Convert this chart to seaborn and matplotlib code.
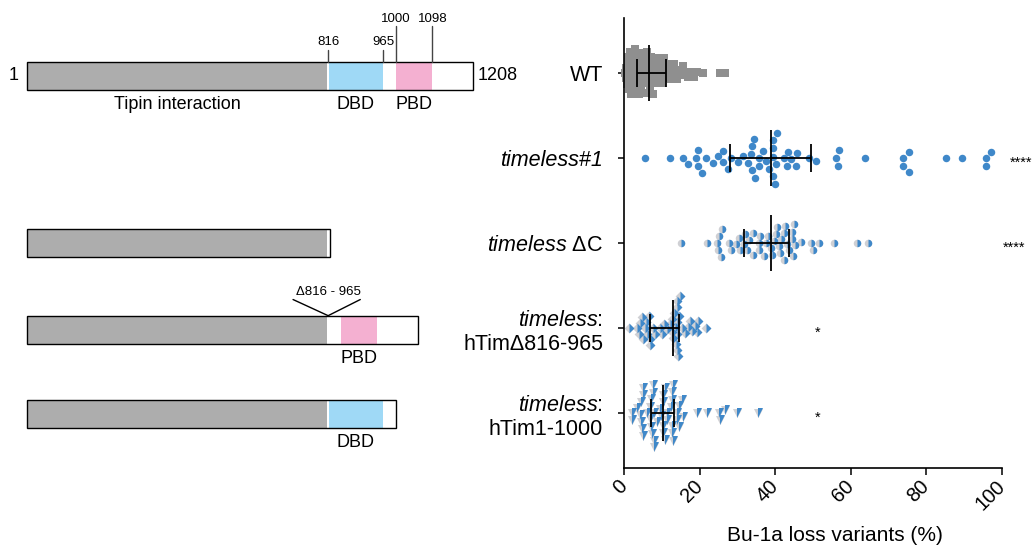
import numpy as np
import pandas as pd
import matplotlib
matplotlib.use("Agg")
import matplotlib.pyplot as plt
from matplotlib.markers import MarkerStyle
from matplotlib.patches import Rectangle
import seaborn as sns

# ---------------- data ----------------
categories = ["WT", "timeless#1", "timeless ΔC",
              "timeless: hTimΔ816-965", "timeless: hTim1-1000"]
tick_labels = ["WT", "timeless#1", r"$\mathit{timeless}$ ΔC",
               "$\\mathit{timeless}$:\nhTimΔ816-965",
               "$\\mathit{timeless}$:\nhTim1-1000"]

wt = [0.2, 0.4, 0.6, 0.8, 1.0, 1.0, 1.3, 1.5, 1.6, 1.8, 2.0, 2.1, 2.3, 2.5, 2.6,
      2.8, 3.0, 3.1, 3.3, 3.5, 3.6, 3.8, 4.0, 4.1, 4.3, 4.5, 4.6, 4.8, 5.0, 5.1,
      5.3, 5.5, 5.6, 5.8, 6.0, 6.2, 6.4, 6.5, 6.7, 6.9, 7.0, 7.2, 7.4, 7.6, 7.8,
      8.0, 8.3, 8.5, 8.8, 9.0, 9.3, 9.5, 9.8, 10.0, 10.3, 10.6, 11.0, 11.3, 11.6,
      12.0, 12.4, 12.8, 13.2, 13.6, 14.0, 14.5, 15.0, 15.6, 16.2, 17.0, 17.8,
      18.5, 19.3, 20.9, 25.4, 26.8]
timeless1 = [5.5, 12.3, 15.6, 17.0, 19.0, 19.6, 19.6, 20.7, 21.8, 23.5, 24.8,
             26.2, 26.3, 27.4, 28.3, 30.1, 31.6, 32.8, 33.6, 33.8, 33.8, 34.4,
             34.6, 35.7, 35.7, 36.9, 37.6, 38.4, 39.3, 39.5, 39.5, 39.3, 39.9,
             40.1, 40.4, 42.2, 43.0, 43.5, 44.3, 45.4, 45.7, 48.9, 50.8,
             56.2, 56.7, 56.9, 63.8, 73.8, 73.8, 75.3, 75.3, 85.2, 89.5,
             95.7, 95.7, 97.0]
timeless_dC = [15.0, 21.9, 24.5, 24.8, 25.6, 25.8, 25.2, 27.7, 28.2, 29.5, 30.5,
               30.7, 31.7, 32.0, 32.6, 33.2, 34.0, 34.0, 35.6, 35.8, 36.1, 37.0,
               37.5, 38.2, 38.9, 39.2, 39.7, 40.2, 40.6, 41.0, 41.4, 41.5, 42.4,
               42.4, 42.6, 43.0, 43.7, 44.4, 44.5, 44.8, 45.0, 45.2, 46.8, 49.5,
               49.9, 51.6, 55.6, 61.6, 64.5]
htim_d816 = [1.4, 3.5, 4.1, 4.2, 4.7, 5.0, 5.6, 5.8, 6.0, 6.5, 6.9, 7.0, 7.7,
             8.2, 9.5, 10.0, 10.6, 11.3, 12.2, 12.6, 12.8, 13.05, 13.2, 13.5,
             13.8, 13.9, 13.9, 14.0, 14.1, 14.1, 14.4, 14.6, 14.8, 15.3, 16.1,
             16.8, 17.5, 17.9, 18.8, 19.4, 19.7, 21.7]
htim_1000 = [4.4, 7.1, 8.0, 9.7, 11.5, 12.4,
             5.1, 7.3, 8.0, 10.2, 12.8, 14.6,
             3.35, 4.7, 6.9, 8.6, 10.8, 13.05, 15.3, 19.2,
             2.0, 5.1, 7.7, 9.5, 10.2, 13.9, 14.6, 25.0,
             5.1, 7.7, 10.8, 12.6, 12.8, 21.9, 25.4, 29.8, 35.5,
             2.0, 6.0, 8.0, 13.05, 13.9, 26.7,
             4.2, 6.9, 7.1, 10.2, 12.8, 15.5,
             4.4, 10.4, 11.5]
groups = [wt, timeless1, timeless_dC, htim_d816, htim_1000]
significance = ["", "****", "****", "*", "*"]

# protein constructs (amino-acid coordinates)
full_length = 1208
boundary_positions = [816, 965, 1000, 1098]
construct_rows = [0, 2, 3, 4]
construct_lengths = [1208, 822, 1059, 1000]
tipin_end = 816
dbd_ranges = [(816, 965), None, None, (816, 965)]
pbd_ranges = [(1000, 1098), None, (851, 949), None]
deletion_label = "Δ816 - 965"
deletion_site = 816

# ---------------- style ----------------
sns.set_theme(style="ticks")
plt.rcParams["font.family"] = ["Liberation Sans", "DejaVu Sans"]
plt.rcParams["mathtext.fontset"] = "custom"
plt.rcParams["mathtext.it"] = "Liberation Sans:italic"
plt.rcParams["mathtext.rm"] = "Liberation Sans"
for key in ("text.color", "axes.labelcolor", "xtick.color", "ytick.color",
            "axes.edgecolor"):
    plt.rcParams[key] = "black"

BLUE = "#3f88c9"
LGRAY = "#cfd0d4"
WTGRAY = "#8f8f8f"

fig = plt.figure(figsize=(10.32, 5.51), dpi=100)
W, H = 1032, 551
ax = fig.add_axes([624 / W, 1 - 468 / H, 378 / W, 450 / H])

specs = [
    dict(marker="s", base=WTGRAY, half=None, layout=3.8, size=5.3),
    dict(marker="o", base=BLUE, half=None, layout=5.6, size=5.4),
    dict(marker="o", base=LGRAY, half=BLUE, layout=5.0, size=5.4),
    dict(marker="D", base=LGRAY, half=BLUE, layout=4.2, size=5.0),
    dict(marker="v", base=LGRAY, half=BLUE, layout=5.0, size=6.5),
]

ax.set_xlim(0, 100)
for cat, vals, sp in zip(categories, groups, specs):
    n_before = len(ax.collections)
    df = pd.DataFrame({"value": vals, "group": [cat] * len(vals)})
    sns.swarmplot(data=df, x="value", y="group", order=categories, ax=ax,
                  marker=sp["marker"], color=sp["base"], size=sp["layout"],
                  linewidth=0, orient="h", warn_thresh=1.0)
    ax.set_xlim(0, 100)
    ax.set_ylim(4.647, -0.647)
    fig.canvas.draw()  # swarm positions are computed at draw time
    new = [c for c in ax.collections[n_before:] if len(c.get_offsets())]
    for c in new:
        off = np.asarray(c.get_offsets()).copy()
        c.remove()
        ax.scatter(off[:, 0], off[:, 1], marker=sp["marker"],
                   s=sp["size"] ** 2, color=sp["base"], linewidths=0,
                   zorder=2, clip_on=False)
        if sp["half"] is not None:
            ax.scatter(off[:, 0], off[:, 1],
                       marker=MarkerStyle(sp["marker"], fillstyle="right"),
                       s=sp["size"] ** 2, color=sp["half"], linewidths=0,
                       zorder=2.1, clip_on=False)

# median with interquartile range
for i, vals in enumerate(groups):
    q1, med, q3 = np.percentile(vals, [25, 50, 75])
    kw = dict(color="black", lw=1.3, zorder=5, solid_capstyle="butt")
    ax.plot([med, med], [i - 0.33, i + 0.33], **kw)
    ax.plot([q1, q3], [i, i], **kw)
    ax.plot([q1, q1], [i - 0.17, i + 0.17], **kw)
    ax.plot([q3, q3], [i - 0.17, i + 0.17], **kw)

# significance
sig_pos = {1: (102.1, "left"), 2: (100.2, "left"), 3: (51.3, "center"), 4: (51.3, "center")}
for i, s in enumerate(significance):
    if s:
        x, ha = sig_pos[i]
        ax.text(x, i + 0.06, s, ha=ha, va="center", fontsize=10.5, clip_on=False)

ax.set_xlim(0, 100)
ax.set_ylim(4.647, -0.647)
ax.set_xticks([0, 20, 40, 60, 80, 100])
ax.set_xticklabels(["0", "20", "40", "60", "80", "100"], rotation=45,
                   ha="right", va="center", rotation_mode="anchor", fontsize=14.5)
ax.set_yticks(range(len(categories)))
ax.set_yticklabels(tick_labels, fontsize=15.5)
for j, lab in enumerate(ax.get_yticklabels()):
    lab.set_multialignment("right")
    if j == 1:
        lab.set_fontstyle("italic")
ax.set_ylabel("")
ax.set_xlabel("Bu-1a loss variants (%)", fontsize=15)
ax.xaxis.set_label_coords((835 - 624) / 378, -0.128)
ax.tick_params(axis="y", length=4, width=1.1, pad=11, color="black")
ax.tick_params(axis="x", length=5, width=1.1, pad=6, color="black")
for side in ("top", "right"):
    ax.spines[side].set_visible(False)
for side in ("left", "bottom"):
    ax.spines[side].set_linewidth(1.2)
    ax.spines[side].set_color("black")

# ---------------- protein schematics ----------------
axl = fig.add_axes([0, 1 - 468 / H, 600 / W, 450 / H])
ppx = 0.3695  # px per residue
axl.set_xlim(1 - 27 / ppx, 1 + (600 - 27) / ppx)
axl.set_ylim(4.647, -0.647)
axl.axis("off")

GRAY = "#adadad"
DBD_C = "#9fd9f6"
PBD_C = "#f4b0d1"
bar_h = 0.33
row_shift = [0.035, 0.0, 0.02, 0.01]
gap = 3

for k, (row, L) in enumerate(zip(construct_rows, construct_lengths)):
    yc = row + row_shift[k]
    y0 = yc - bar_h / 2
    axl.add_patch(Rectangle((1, y0), L - 1, bar_h, facecolor="white",
                            edgecolor="none", zorder=1))
    axl.add_patch(Rectangle((1, y0), min(tipin_end - gap, L) - 1, bar_h,
                            facecolor=GRAY, edgecolor="none", zorder=2))
    if dbd_ranges[k]:
        a, b = dbd_ranges[k]
        axl.add_patch(Rectangle((a + gap, y0), b - a - gap, bar_h,
                                facecolor=DBD_C, edgecolor="none", zorder=2))
        axl.text((a + b) / 2, y0 + bar_h + 0.07, "DBD", ha="center", va="top",
                 fontsize=13)
    if pbd_ranges[k]:
        a, b = pbd_ranges[k]
        axl.add_patch(Rectangle((a, y0), b - a, bar_h,
                                facecolor=PBD_C, edgecolor="none", zorder=2))
        axl.text((a + b) / 2, y0 + bar_h + 0.07, "PBD", ha="center", va="top",
                 fontsize=13)
    axl.add_patch(Rectangle((1, y0), L - 1, bar_h, fill=False,
                            edgecolor="black", lw=1.0, zorder=3))
    if k == 0:
        axl.text(1 - 13 / ppx, yc, "1", ha="center", va="center", fontsize=13)
        axl.text(L + 5 / ppx, yc, str(full_length), ha="left", va="center",
                 fontsize=13)
        axl.text(tipin_end / 2, y0 + bar_h + 0.07, "Tipin interaction",
                 ha="center", va="top", fontsize=13)
        for p in boundary_positions:
            tall = p >= 1000
            ytop = y0 - (0.42 if tall else 0.14)
            axl.plot([p, p], [y0, ytop], color="#444444", lw=1.0, zorder=3)
            axl.text(p, ytop - 0.02, str(p), ha="center", va="bottom",
                     fontsize=9.5)
    if k == 2:
        ytop = y0 - 0.19
        axl.plot([deletion_site - 95, deletion_site, deletion_site + 87],
                 [ytop, y0, ytop], color="black", lw=1.0, zorder=3)
        axl.text(deletion_site, ytop - 0.02, deletion_label, ha="center",
                 va="bottom", fontsize=9.5)

fig.savefig("out.png", dpi=100)
